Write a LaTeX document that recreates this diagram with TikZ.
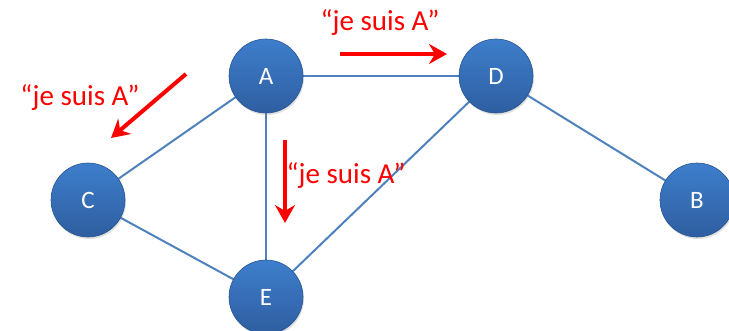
\documentclass[tikz,border=0pt]{standalone}
\usepackage{fontspec}
\setmainfont{Carlito}
\usetikzlibrary{arrows.meta,shadows}
\definecolor{nodetop}{RGB}{62,126,204}
\definecolor{nodebot}{RGB}{46,94,160}
\definecolor{edgeblue}{RGB}{79,129,189}
\definecolor{msgred}{RGB}{255,0,0}
\tikzset{
  router/.style={circle,minimum size=74pt,inner sep=0pt,top color=nodetop,bottom color=nodebot,
    draw=nodebot!90!black,line width=0.6pt,text=white,font=\fontsize{25}{25}\selectfont,
    drop shadow={shadow xshift=1pt,shadow yshift=-2pt,opacity=0.25}},
  link/.style={draw=edgeblue,line width=2pt},
  msg/.style={draw=msgred,line width=4pt,-{Stealth[length=18pt,width=20pt,inset=6pt]}},
  msgtext/.style={text=msgred,font=\fontsize{29}{29}\selectfont}
}
\begin{document}
\begin{tikzpicture}[x=1pt,y=-1pt]
      \useasboundingbox (0,0) rectangle (729,331);

      % liaisons
      \coordinate (pA) at (266,76);
      \coordinate (pD) at (496,76);
      \coordinate (pC) at (88,200);
      \coordinate (pB) at (697,200);
      \coordinate (pE) at (266,297);

      \draw[link] (pA) -- (pC);
      \draw[link] (pA) -- (pD);
      \draw[link] (pA) -- (pE);
      \draw[link] (pD) -- (pE);
      \draw[link] (pD) -- (pB);
      \draw[link] (pC) -- (pE);

      \node[router] (A) at (pA) {A};
      \node[router] (D) at (pD) {D};
      \node[router] (C) at (pC) {C};
      \node[router] (B) at (pB) {B};
      \node[router] (E) at (pE) {E};

      % messages
      \coordinate (m1s) at (340,54);
      \coordinate (m1e) at (447,54);
      \coordinate (m2s) at (186,74);
      \coordinate (m2e) at (111,138);
      \coordinate (m3s) at (285,140);
      \coordinate (m3e) at (285,223);

      \draw[msg] (m1s) -- (m1e);
      \draw[msg] (m2s) -- (m2e);
      \draw[msg] (m3s) -- (m3e);

      \node[msgtext] (t1) at (380,23) {“je suis A”};
      \node[msgtext] (t2) at (80,98) {“je suis A”};
      \node[msgtext] (t3) at (346,176) {“je suis A”};
    \end{tikzpicture}
\end{document}
